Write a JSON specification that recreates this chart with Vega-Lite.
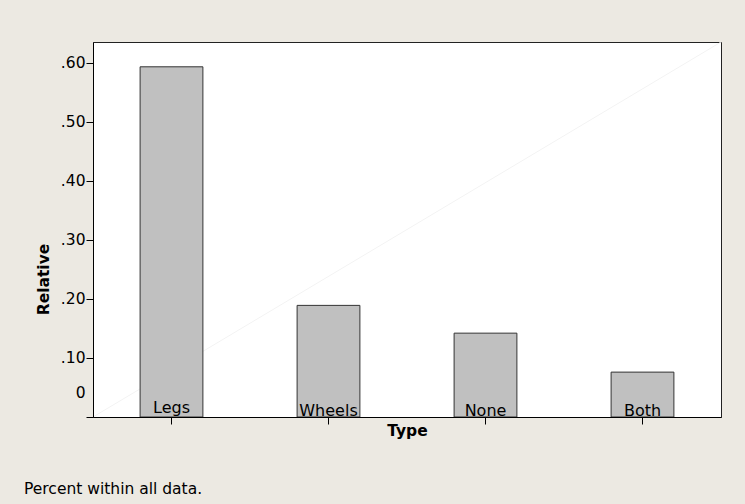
{
  "$schema": "https://vega.github.io/schema/vega-lite/v6.json",
  "width": 628,
  "height": 375,
  "autosize": {"type": "none"},
  "padding": {"left": 93, "top": 42, "right": 24, "bottom": 87},
  "background": "#ECE9E2",
  "title": {
    "text": "Percent within all data.",
    "orient": "bottom",
    "anchor": "start",
    "frame": "group",
    "dx": -69,
    "offset": 55,
    "font": "DejaVu Sans",
    "fontSize": 15.5,
    "fontWeight": "normal",
    "color": "black",
    "baseline": "alphabetic"
  },
  "data": {
    "values": [
      {"Type": "Legs", "Relative": 0.593},
      {"Type": "Wheels", "Relative": 0.189},
      {"Type": "None", "Relative": 0.142},
      {"Type": "Both", "Relative": 0.076}
    ]
  },
  "layer": [
    {
      "data": {"values": [{}]},
      "mark": {"type": "rule", "color": "#F3F3F3", "strokeWidth": 1},
      "encoding": {
        "x": {"value": 0},
        "x2": {"value": "width"},
        "y": {"value": "height"},
        "y2": {"value": 0}
      }
    },
    {
      "mark": {"type": "bar", "fill": "#C0C0C0", "stroke": "#333333", "strokeWidth": 1},
      "encoding": {
        "x": {
          "field": "Type",
          "type": "nominal",
          "sort": null,
          "scale": {"paddingInner": 0.6, "paddingOuter": 0.3},
          "axis": {
            "zindex": 2,
            "title": "Type",
            "titleFont": "DejaVu Sans",
            "titleFontSize": 15.5,
            "titleFontWeight": "bold",
            "titleColor": "black",
            "titleY": 18.5,
            "titleBaseline": "alphabetic",
            "labelAngle": 0,
            "labelFont": "DejaVu Sans",
            "labelFontSize": 16,
            "labelColor": "black",
            "labelBaseline": "alphabetic",
            "labelPadding": {"condition": {"test": "datum.value === 'Legs'", "value": -12}, "value": -9},
            "tickSize": 7,
            "tickColor": "black",
            "domainColor": "black",
            "grid": false
          }
        },
        "y": {
          "field": "Relative",
          "type": "quantitative",
          "scale": {"domain": [0, 0.635], "nice": false},
          "axis": {
            "zindex": 2,
            "values": [0, 0.1, 0.2, 0.3, 0.4, 0.5, 0.6],
            "labelExpr": "datum.value == 0 ? '0' : replace(format(datum.value, '.2f'), '0.', '.')",
            "labelFont": "DejaVu Sans",
            "labelFontSize": 15.5,
            "labelColor": "black",
            "labelPadding": 1,
            "labelOffset": {"condition": {"test": "datum.value === 0", "value": -25}, "value": 0},
            "labelOverlap": false,
            "labelFlush": false,
            "tickSize": 7,
            "tickColor": "black",
            "domainColor": "black",
            "grid": false,
            "title": "Relative",
            "titleFont": "DejaVu Sans",
            "titleFontSize": 15.5,
            "titleFontWeight": "bold",
            "titleColor": "black",
            "titleX": -44.7,
            "titleY": 237,
            "titleAngle": 270,
            "titleAlign": "center",
            "titleBaseline": "alphabetic"
          }
        }
      }
    }
  ],
  "config": {
    "view": {"fill": "white", "stroke": "#222222", "strokeWidth": 1}
  }
}
